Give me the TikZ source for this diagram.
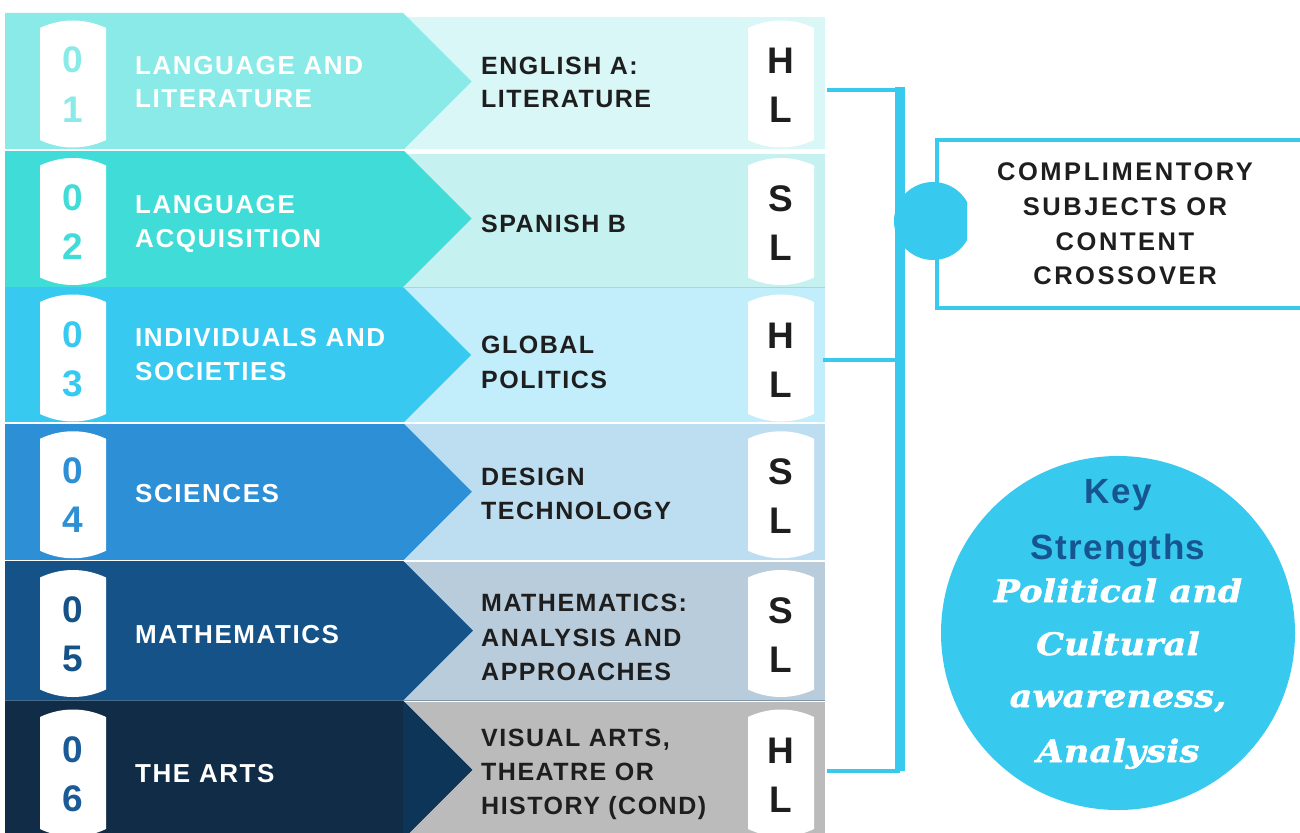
\documentclass[tikz,border=0pt]{standalone}
\usepackage{fontspec}
\setmainfont{Liberation Sans}
\newfontfamily\labfont[LetterSpace=6]{Liberation Sans}
\newfontfamily\boxfont[LetterSpace=10]{Liberation Sans}
\newfontfamily\keyfont[LetterSpace=4]{Liberation Sans}
\newfontfamily\slabfont[FakeStretch=1.12,FakeBold=1.6,LetterSpace=1]{DejaVu Serif}
\definecolor{bA}{HTML}{8AEAE8}\definecolor{rA}{HTML}{D9F7F7}
\definecolor{bB}{HTML}{40DCD7}\definecolor{rB}{HTML}{C5F2F0}
\definecolor{bC}{HTML}{38C9F0}\definecolor{rC}{HTML}{C2EDFA}
\definecolor{bD}{HTML}{2D8FD5}\definecolor{rD}{HTML}{BDDDF1}
\definecolor{bE}{HTML}{155288}\definecolor{rE}{HTML}{B8CCDB}
\definecolor{bF}{HTML}{112C47}\definecolor{aF}{HTML}{0D3558}\definecolor{rF}{HTML}{BBBBBB}
\definecolor{dF}{HTML}{1A5A96}
\definecolor{cyanline}{HTML}{38C9EF}
\definecolor{keyblue}{HTML}{16558F}
\definecolor{ink}{HTML}{1E1E1E}
\definecolor{sepC}{HTML}{8CE2EC}
\definecolor{sepF}{HTML}{7F97AB}
\tikzset{
  pillshape/.pic={\fill[white] (-33,-56) .. controls (-12,-66) and (12,-66) .. (33,-56) -- (33,56) .. controls (12,66) and (-12,66) .. (-33,56) -- cycle;},
  leftlab/.style={anchor=base west, inner sep=0pt, text=white, font=\labfont\bfseries\fontsize{26}{34}\selectfont},
  rightlab/.style={anchor=base west, inner sep=0pt, text=ink, font=\labfont\bfseries\fontsize{25}{34}\selectfont},
  digit/.style={anchor=base, inner sep=0pt, font=\bfseries\fontsize{37}{40}\selectfont},
  level/.style={anchor=base, inner sep=0pt, text=ink, font=\bfseries\fontsize{37}{40}\selectfont},
  boxlab/.style={anchor=base, inner sep=0pt, text=ink, font=\boxfont\bfseries\fontsize{25.5}{34}\selectfont},
  keylab/.style={anchor=base, inner sep=0pt, text=keyblue, font=\keyfont\bfseries\fontsize{35}{40}\selectfont},
  strlab/.style={anchor=base, inner sep=0pt, text=white, font=\slabfont\bfseries\itshape\fontsize{31}{40}\selectfont},
  link/.style={draw=cyanline, line width=4pt},
}
\begin{document}
\begin{tikzpicture}[x=1pt,y=-1pt]
\useasboundingbox (0,0) rectangle (1300,832);
\clip (0,0) rectangle (1300,832);
% right panels
\foreach \T/\B/\RT/\rc in {13/150/17/rA,150/287/154/rB,287/423/288/rC,423/560.5/424/rD,560.5/700.5/561.5/rE,700.5/839/701.5/rF}
  \fill[\rc] (403,\RT) rectangle (825,\B);
% bands with arrows
\foreach \T/\B/\bc in {13/150/bA,150/287/bB,287/423/bC,423/560.5/bD,560.5/700.5/bE,700.5/839/bF}
  \fill[\bc] (5,\T) -- (403,\T) -- ({403+(\B-\T)/2},{(\T+\B)/2}) -- (403,\B) -- (5,\B) -- cycle;
\fill[aF] (403,700.5) -- (472.25,769.75) -- (403,839) -- cycle;
% separators
\draw[white, line width=1.5pt] (5,150) -- (825,150);
\draw[white, line width=1.5pt] (5,423) -- (825,423);
\draw[white, line width=1.5pt] (5,560.5) -- (825,560.5);
\draw[sepC, line width=1.5pt] (403,287.5) -- (825,287.5);
\draw[sepF, line width=1.5pt] (403,700.5) -- (825,700.5);
% pills, digits and levels
\foreach \i/\m/\dc/\la in {1/81/bA/H,2/218.5/bB/S,3/355/bC/H,4/491.75/bD/S,5/630.5/bE/S,6/770/dF/H}{
  \pic at (73,\m+3) {pillshape};
  \pic at (781,\m+3) {pillshape};
  \node[digit, text=\dc] (da\i) at (73,\m-8) {0};
  \node[digit, text=\dc] (db\i) at (73,\m+41) {\i};
  \node[level] (la\i) at (781,\m-7) {\la};
  \node[level] (lb\i) at (781,\m+42) {L};
}
% left labels
\node[leftlab] (l1a) at (135,75) {LANGUAGE AND};
\node[leftlab] (l1b) at (135,108) {LITERATURE};
\node[leftlab] (l2a) at (135,213.5) {LANGUAGE};
\node[leftlab] (l2b) at (135,247.5) {ACQUISITION};
\node[leftlab] (l3a) at (135,346.5) {INDIVIDUALS AND};
\node[leftlab] (l3b) at (135,380.5) {SOCIETIES};
\node[leftlab] (l4a) at (135,502.5) {SCIENCES};
\node[leftlab] (l5a) at (135,643.5) {MATHEMATICS};
\node[leftlab] (l6a) at (135,782.5) {THE ARTS};
% right labels
\node[rightlab] (r1a) at (481,75) {ENGLISH A:};
\node[rightlab] (r1b) at (481,108) {LITERATURE};
\node[rightlab] (r2a) at (481,232) {SPANISH B};
\node[rightlab] (r3a) at (481,353.5) {GLOBAL};
\node[rightlab] (r3b) at (481,388.5) {POLITICS};
\node[rightlab] (r4a) at (481,485) {DESIGN};
\node[rightlab] (r4b) at (481,519) {TECHNOLOGY};
\node[rightlab] (r5a) at (481,611.5) {MATHEMATICS:};
\node[rightlab] (r5b) at (481,646) {ANALYSIS AND};
\node[rightlab] (r5c) at (481,680.5) {APPROACHES};
\node[rightlab] (r6a) at (481,746) {VISUAL ARTS,};
\node[rightlab] (r6b) at (481,780.5) {THEATRE OR};
\node[rightlab] (r6c) at (481,814.5) {HISTORY (COND)};
% bracket
\coordinate (c1) at (827,90);
\coordinate (c2) at (823,360);
\coordinate (c3) at (827,771);
\coordinate (v1) at (900,87);
\coordinate (v2) at (900,771);
\draw[cyanline, line width=10pt] (v1) -- (v2);
\draw[link] (c1) -- (c1 -| v1);
\draw[link] (c2) -- (c2 -| v1);
\draw[link] (c3) -- (c3 -| v1);
% box
\node[draw=cyanline, fill=white, line width=4pt, minimum width=380pt, minimum height=168pt, anchor=north west, inner sep=0pt] (box) at (935,138) {};
\begin{scope}
  \clip (890,170) rectangle (967,270);
  \fill[cyanline] (933,221) circle (39);
\end{scope}
\node[boxlab] (bx1) at (1125,180) {COMPLIMENTORY};
\node[boxlab] (bx2) at (1125,215) {SUBJECTS OR};
\node[boxlab] (bx3) at (1125,250) {CONTENT};
\node[boxlab] (bx4) at (1125,284) {CROSSOVER};
% key strengths circle
\node[circle, fill=cyanline, minimum size=354pt, inner sep=0pt] (ks) at (1118,633) {};
\node[keylab] (k1) at (1118,503) {Key};
\node[keylab] (k2) at (1118,559) {Strengths};
\node[strlab] (s1) at (1118,602) {Political and};
\node[strlab] (s2) at (1118,655) {Cultural};
\node[strlab] (s3) at (1118,707) {awareness,};
\node[strlab] (s4) at (1118,762) {Analysis};
\end{tikzpicture}
\end{document}
